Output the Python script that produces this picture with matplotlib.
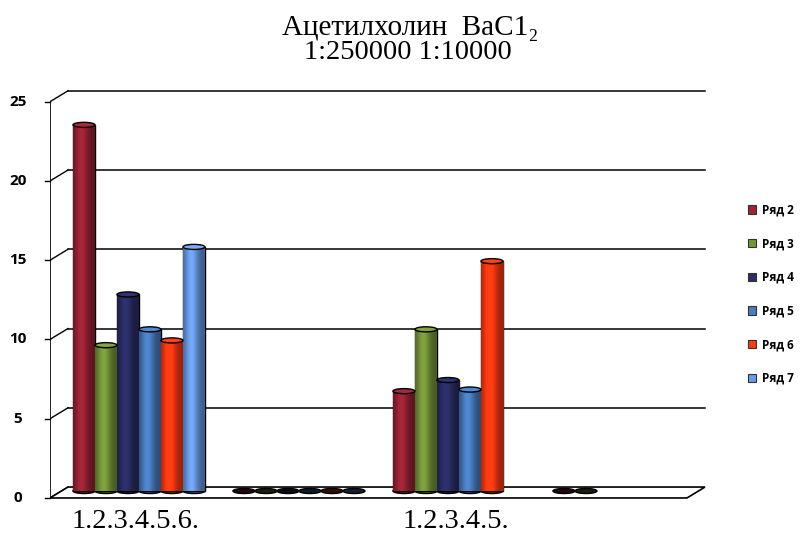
import numpy as np
import matplotlib
matplotlib.use("Agg")
import matplotlib.pyplot as plt
from matplotlib.patches import Ellipse, Polygon, Patch
from matplotlib.colors import to_rgb

# --- data ---
categories = ["1.2.3.4.5.6.", "", "1.2.3.4.5.", ""]
series_names = ["Ряд 2", "Ряд 3", "Ряд 4", "Ряд 5", "Ряд 6", "Ряд 7"]
series_colors = ["#9b2335", "#76963a", "#2b2d66", "#4a7cc0", "#ff3a12", "#6b9be6"]
ryad2 = [23.1, 0, 6.3, 0]
ryad3 = [9.2, 0, 10.2, 0]
ryad4 = [12.4, 0, 7.0, None]
ryad5 = [10.2, 0, 6.4, None]
ryad6 = [9.5, 0, 14.5, None]
ryad7 = [15.4, 0, None, None]
y_ticks = [0, 5, 10, 15, 20, 25]

values = [ryad2, ryad3, ryad4, ryad5, ryad6, ryad7]

fig = plt.figure(figsize=(8.05, 5.37), dpi=100)
ax = fig.add_axes([50 / 805, 1 - 502 / 537, 660 / 805, 422 / 537])
ax.set_xlim(-0.556, 3.569)
ax.set_ylim(-0.694, 25.93)
ax.axis("off")

# pseudo-3D geometry (data units)
dx, dy = 0.1125, 0.69          # depth offset of back wall
x_left, x_right = -0.556, 3.425
y_front = -0.44
y_back = y_front + dy
bar_w = 0.1375
cap_h = 0.32

# floor
floor = Polygon([[x_left, y_front], [x_right, y_front],
                 [x_right + dx, y_back], [x_left + dx, y_back]],
                closed=True, facecolor="white", edgecolor="black", lw=1.2, zorder=1)
ax.add_patch(floor)

# back-wall gridlines, front axis, diagonal ticks
for v in y_ticks:
    if v > 0:
        ax.plot([x_left + dx, x_right + dx], [v + y_back, v + y_back],
                color="black", lw=1.1, zorder=0.5)
    ax.plot([x_left, x_left + dx], [v + y_front, v + y_back], color="black", lw=1.0, zorder=0.5)
    ax.plot([x_left - 0.03, x_left], [v + y_front, v + y_front], color="black", lw=1.0,
            clip_on=False)
    ax.text(x_left - 0.2, v + y_front, str(v), ha="center", va="center",
            fontsize=11, fontweight="bold", family="Open Sans", clip_on=False)
ax.plot([x_left, x_left], [y_front, 25 + y_front], color="black", lw=1.2)


def shade(color, n=64):
    t = np.linspace(0, 1, n)
    f = 0.6 + 0.5 * np.exp(-((t - 0.38) / 0.3) ** 2)
    rgb = np.clip(np.outer(f, to_rgb(color)), 0, 1)
    return rgb[np.newaxis, :, :]


# cylinders
for ci in range(len(categories)):
    for si, vals in enumerate(values):
        v = vals[ci]
        if v is None:
            continue
        x = ci + (si - 2.5) * bar_w
        col = series_colors[si]
        if v > 0:
            rect = ax.bar(x, v, width=bar_w, color=col, edgecolor="black", lw=1.0,
                          zorder=3)[0]
            img = ax.imshow(shade(col), extent=[x - bar_w / 2, x + bar_w / 2, 0, v],
                            aspect="auto", zorder=3.1, interpolation="bilinear")
            img.set_clip_path(rect)
            ax.add_patch(Ellipse((x, 0), bar_w, cap_h, facecolor=np.array(to_rgb(col)) * 0.6,
                                 edgecolor="black", lw=1.0, zorder=2.9))
            ax.add_patch(Ellipse((x, v), bar_w, cap_h,
                                 facecolor=np.clip(np.array(to_rgb(col)) * 1.1, 0, 1),
                                 edgecolor="black", lw=1.0, zorder=3.2))
        else:
            ax.add_patch(Ellipse((x, v), bar_w, cap_h,
                                 facecolor=np.array(to_rgb(col)) * 0.2,
                                 edgecolor="black", lw=1.0, zorder=3.2))

# category labels
for ci, lab in enumerate(categories):
    ax.text(ci - 0.02, -1.95, lab, ha="center", va="center", fontsize=20.5,
            family="Liberation Serif", clip_on=False)

# title
fig.text(410 / 805, 1 - 35 / 537, "Ацетилхолин  BaC1₂", ha="center", va="baseline",
         fontsize=21, family=["Liberation Serif", "DejaVu Serif"])
fig.text(408 / 805, 1 - 59 / 537, "1:250000 1:10000", ha="center", va="baseline",
         fontsize=20.5, family="Liberation Serif")

handles = [Patch(facecolor=c, edgecolor="#333333", lw=0.8) for c in series_colors]
fig.legend(handles, series_names, loc="upper left", bbox_to_anchor=(737 / 805, 1 - 193 / 537),
           frameon=False, handlelength=0.7, handleheight=0.7, handletextpad=0.5,
           labelspacing=1.75, prop={"family": "Open Sans", "weight": "bold", "size": 8.5})

fig.savefig("out.png", dpi=100)
